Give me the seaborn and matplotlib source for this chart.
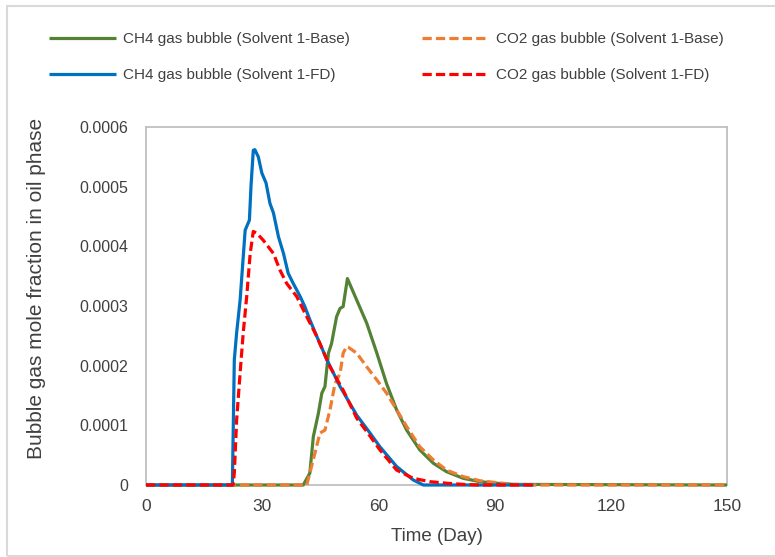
import matplotlib
matplotlib.use("Agg")
import matplotlib.pyplot as plt
from matplotlib.patches import Rectangle
import numpy as np
import pandas as pd
import seaborn as sns

# --- data -------------------------------------------------------------
ch4_base_day = [0, 40.6, 42.3, 43.2, 44.5, 45.4, 46.2, 47.1, 47.9, 49.2, 50.1, 50.9, 52.0,
                54.4, 57.0, 59.6, 62.1, 64.7, 67.3, 70.7, 74.2, 77.6, 81.9, 86.2, 90.5, 95, 150]
ch4_base_val = [0, 0, 0.00002, 0.000081, 0.00012, 0.000154, 0.000165, 0.000221, 0.000237,
                0.000282, 0.000296, 0.000299, 0.000346, 0.00031, 0.000271, 0.000221, 0.00017,
                0.000126, 0.000092, 0.0000587, 0.0000364, 0.0000223, 0.0000112, 0.0000056,
                0.000003, 0.000001, 0]

co2_base_day = [0, 41.5, 42.3, 43.6, 44.9, 46.2, 47.5, 48.8, 50.1, 50.9, 51.8, 52.2, 54.4,
                57.0, 59.6, 62.1, 64.7, 67.3, 70.7, 74.2, 77.6, 81.9, 86.2, 90.5, 95, 100, 150]
co2_base_val = [0, 0, 0.00002, 0.000053, 0.000087, 0.000092, 0.000126, 0.00017, 0.000187,
                0.000221, 0.000232, 0.000231, 0.000221, 0.000198, 0.000176, 0.000154,
                0.000126, 0.000098, 0.000064, 0.000042, 0.000025, 0.000014, 0.0000072,
                0.000004, 0.000001, 0, 0]

ch4_fd_day = [0, 22.3, 22.8, 23.4, 24.3, 25.6, 26.7, 27.1, 27.7, 28.1, 29.0, 29.9, 31.0, 32.0,
              32.9, 34.2, 35.5, 36.7, 38.0, 39.8, 41.0, 42.3, 44.1, 46.7, 50.1, 54.4, 57.5,
              60.4, 64.7, 69.0, 71.6, 100]
ch4_fd_val = [0, 0, 0.00021, 0.000255, 0.00031, 0.000427, 0.000444, 0.0005, 0.000561,
              0.000562, 0.00055, 0.000523, 0.000506, 0.000472, 0.000456, 0.000416, 0.000388,
              0.000355, 0.000338, 0.000316, 0.000299, 0.000277, 0.000249, 0.00021, 0.000165,
              0.000117, 0.00009, 0.000064, 0.000031, 0.0000084, 0, 0]

co2_fd_day = [0, 22.5, 22.8, 23.4, 24.3, 25.1, 26.0, 26.9, 27.7, 28.6, 30.3, 32.9, 34.6, 36.3,
              38.9, 41.5, 44.1, 47.5, 50.9, 54.4, 57.5, 60.4, 64.7, 69.0, 73.3, 77.6, 82.0,
              86, 100]
co2_fd_val = [0, 0, 0.00002, 0.000109, 0.000188, 0.000255, 0.000316, 0.000388, 0.000425,
              0.000422, 0.00041, 0.000388, 0.00036, 0.000338, 0.000316, 0.000282, 0.000249,
              0.000198, 0.000159, 0.000112, 0.000085, 0.0000587, 0.000025, 0.0000112,
              0.0000056, 0.000003, 0.000001, 0, 0]

series_names = ["CH4 gas bubble (Solvent 1-Base)", "CO2 gas bubble (Solvent 1-Base)",
                "CH4 gas bubble (Solvent 1-FD)", "CO2 gas bubble (Solvent 1-FD)"]

x_ticks = [0, 30, 60, 90, 120, 150]
y_ticks = [0, 0.0001, 0.0002, 0.0003, 0.0004, 0.0005, 0.0006]
y_tick_labels = ["0", "0.0001", "0.0002", "0.0003", "0.0004", "0.0005", "0.0006"]

# --- style ------------------------------------------------------------
sns.set_theme(style="white")
regular = ["Liberation Sans", "DejaVu Sans"]
plt.rcParams["font.family"] = regular
text_color = "#404040"

colors = ["#548235", "#ED7D31", "#0070C0", "#FF0000"]
dashed = [False, True, False, True]

fig = plt.figure(figsize=(7.75, 5.57), dpi=100)
ax = fig.add_axes([146 / 775, 72 / 557, 581 / 775, 358 / 557])

frames = [
    pd.DataFrame({"day": d, "value": v, "series": n})
    for d, v, n in zip([ch4_base_day, co2_base_day, ch4_fd_day, co2_fd_day],
                       [ch4_base_val, co2_base_val, ch4_fd_val, co2_fd_val],
                       series_names)
]

for df, c, is_dash in zip(frames, colors, dashed):
    sns.lineplot(data=df, x="day", y="value", ax=ax, color=c, linewidth=2.3,
                 estimator=None, sort=False, label=df["series"].iloc[0],
                 legend=False, zorder=3, clip_on=False)
    line = ax.get_lines()[-1]
    if is_dash:
        line.set_dashes((2.9, 1.3))
    line.set_solid_capstyle("butt")

ax.set_xlim(0, 150)
ax.set_ylim(0, 0.0006)
ax.set_xticks(x_ticks)
ax.set_xticklabels([str(t) for t in x_ticks], fontsize=12.5, color=text_color)
ax.set_yticks(y_ticks)
ax.set_yticklabels(y_tick_labels, fontsize=11.5, color=text_color)
ax.tick_params(axis="both", length=0)
ax.tick_params(axis="x", pad=10)
ax.tick_params(axis="y", pad=13)

ax.set_xlabel("Time (Day)", fontsize=13.5, color=text_color, labelpad=10)
ax.set_ylabel("Bubble gas mole fraction in oil phase", fontsize=15, color=text_color)
ax.yaxis.set_label_coords(-0.172, 0.55)

for s in ax.spines.values():
    s.set_visible(True)
    s.set_color("#BFBFBF")
    s.set_linewidth(1.3)
    s.set_zorder(1)

handles = ax.get_lines()
order = [0, 2, 1, 3]
fig.legend([handles[i] for i in order], [series_names[i] for i in order],
           ncol=2, loc="upper left", bbox_to_anchor=(43 / 775, 1 - 26 / 557),
           frameon=False, prop={"size": 11},
           labelcolor=text_color, handlelength=4.4, handletextpad=0.45,
           columnspacing=4.7, labelspacing=1.45, borderaxespad=0)

fig.patches.append(Rectangle((7 / 775, 1.5 / 557), 1.2, 550 / 557,
                             transform=fig.transFigure, fill=False,
                             edgecolor="#D9D9D9", linewidth=1.5))

fig.savefig("out.png", dpi=100)
